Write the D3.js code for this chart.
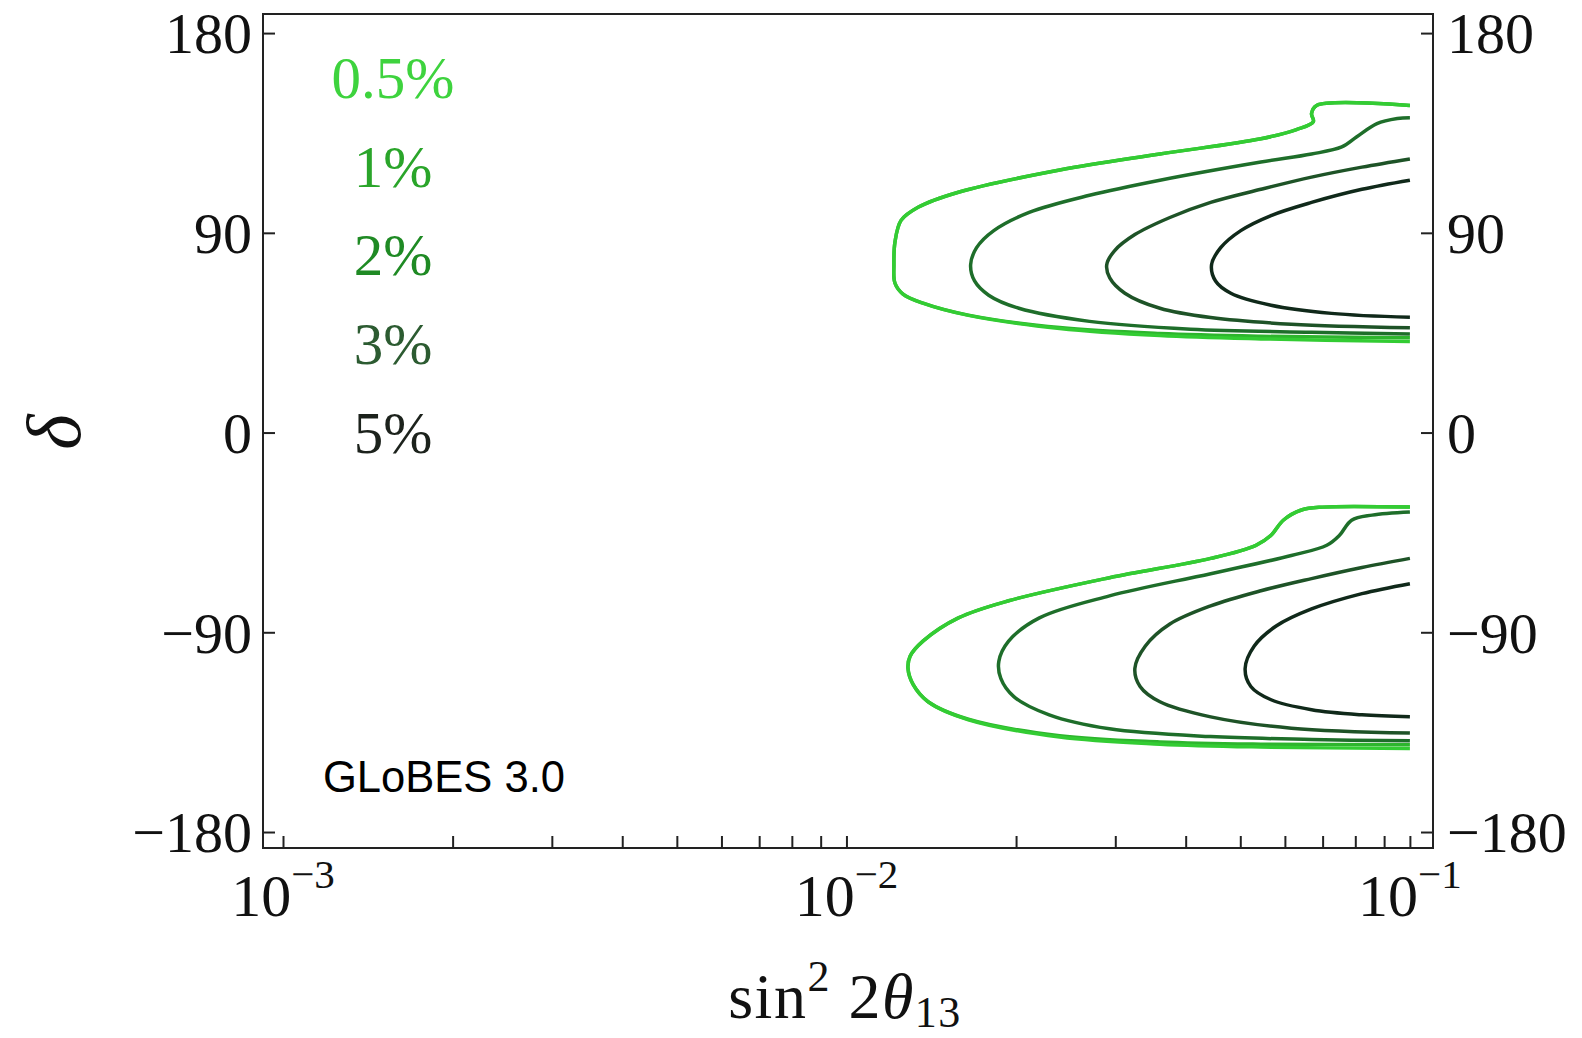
<!DOCTYPE html>
<html>
<head>
<meta charset="utf-8">
<script src="https://cdn.jsdelivr.net/npm/d3@7"></script>
<style>
  body { margin: 0; background: #fff; }
  svg { display: block; }
</style>
</head>
<body>
<svg id="chart" width="1582" height="1038"></svg>
<script>
// Systematic error levels, outermost (most sensitive) to innermost
const levels = ["0.5%", "1%", "2%", "3%", "5%"];

// Axis ticks
const xTickExponents = [-3, -2, -1];
const yTickValues = [180, 90, 0, -90, -180];

// Contours: [sin^2 2θ13, δ (degrees)] for the upper (δ > 0) and lower (δ < 0) regions
const upper05 = [[0.1,147.4],[0.0683,147.4],[0.0669,143.7],[0.0674,140.1],[0.0629,136.5],[0.0544,132.4],[0.0360,125.5],[0.0239,118.3],[0.0158,108.3],[0.0134,101.5],[0.0125,95.6],[0.01219,85.6],[0.01214,75.6],[0.01219,67.4],[0.0126,62.4],[0.01367,58.3],[0.01646,52.8],[0.0239,46.9],[0.0360,43.7],[0.0544,42.2],[0.1,41.0]];
const upper1  = [[0.1,147.4],[0.0683,147.4],[0.0669,143.7],[0.0674,140.1],[0.0629,136.5],[0.0544,132.4],[0.0360,125.5],[0.0239,118.3],[0.0158,108.3],[0.0134,101.5],[0.0125,95.6],[0.01219,85.6],[0.01214,75.6],[0.01219,67.4],[0.0126,62.4],[0.01367,58.3],[0.01646,52.9],[0.0239,47.3],[0.0360,44.6],[0.0544,43.4],[0.1,42.7]];
const upper2  = [[0.1,141.9],[0.0950,141.5],[0.0874,139.2],[0.0805,133.3],[0.0757,128.7],[0.0669,125.5],[0.0544,121.9],[0.0360,113.7],[0.0270,106.9],[0.0211,99.2],[0.01826,91.0],[0.01702,83.3],[0.01661,75.6],[0.01688,68.3],[0.01788,61.9],[0.02023,56.0],[0.0270,50.1],[0.0408,46.6],[0.0669,45.2],[0.1,44.4]];
const upper3  = [[0.1,123.3],[0.0822,119.6],[0.0669,115.1],[0.0544,109.6],[0.0443,103.7],[0.0375,96.9],[0.0325,89.2],[0.0299,81.9],[0.02897,75.6],[0.02933,69.7],[0.0312,62.8],[0.0360,56.0],[0.0443,51.8],[0.0616,48.8],[0.1,47.2]];
const upper5  = [[0.1,113.7],[0.0822,109.6],[0.0669,103.7],[0.0567,97.8],[0.0501,91.0],[0.04615,83.3],[0.04446,75.6],[0.04519,68.3],[0.04811,62.8],[0.0567,57.4],[0.0726,53.7],[0.1,51.9]];

const lower05 = [[0.1,-33.6],[0.0700,-33.6],[0.0642,-34.9],[0.0596,-39.5],[0.0567,-46.3],[0.0533,-50.8],[0.0443,-56.7],[0.0293,-65.4],[0.0194,-75.8],[0.0158,-83.5],[0.01367,-94.0],[0.01297,-100.8],[0.01286,-106.3],[0.01313,-113.5],[0.01396,-121.3],[0.01646,-129.4],[0.0239,-137.2],[0.0360,-140.4],[0.0544,-141.7],[0.1,-142.4]];
const lower1  = [[0.1,-33.6],[0.0700,-33.6],[0.0642,-34.9],[0.0596,-39.5],[0.0567,-46.3],[0.0533,-50.8],[0.0443,-56.7],[0.0293,-65.4],[0.0194,-75.8],[0.0158,-83.5],[0.01367,-94.0],[0.01297,-100.8],[0.01286,-106.3],[0.01313,-113.5],[0.01396,-121.3],[0.01646,-129.2],[0.0239,-136.6],[0.0360,-139.4],[0.0544,-140.4],[0.1,-140.7]];
const lower2  = [[0.1,-35.8],[0.0857,-37.2],[0.0788,-39.5],[0.0750,-46.3],[0.0712,-50.8],[0.0616,-55.4],[0.0443,-63.6],[0.0293,-73.6],[0.0220,-83.5],[0.0194,-94.0],[0.01864,-103.1],[0.01879,-110.8],[0.01982,-119.0],[0.0229,-127.2],[0.0293,-133.5],[0.0443,-137.0],[0.0669,-138.3],[0.1,-138.9]];
const lower3  = [[0.1,-56.7],[0.0822,-60.8],[0.0669,-65.8],[0.0544,-71.3],[0.0443,-78.1],[0.0375,-86.3],[0.0339,-96.3],[0.0325,-106.3],[0.0332,-114.4],[0.0360,-121.3],[0.0443,-128.1],[0.0616,-133.2],[0.1,-135.4]];
const lower5  = [[0.1,-68.1],[0.0822,-72.6],[0.0669,-79.5],[0.0579,-87.2],[0.0529,-96.3],[0.0510,-106.3],[0.0522,-114.4],[0.0567,-120.4],[0.0669,-124.9],[0.0822,-127.2],[0.1,-128.1]];

// Per-level styling
const lineColors = ["#33cc33", "#2db52d", "#1e6e2a", "#1e5327", "#10291a"];
const textColors = ["#3ed33e", "#2aa52a", "#1f8a24", "#2c5b31", "#1c221c"];

const contours = [
  { level: 1, points: upper1 }, { level: 0, points: upper05 },
  { level: 2, points: upper2 }, { level: 3, points: upper3 }, { level: 4, points: upper5 },
  { level: 1, points: lower1 }, { level: 0, points: lower05 },
  { level: 2, points: lower2 }, { level: 3, points: lower3 }, { level: 4, points: lower5 }
];

const svg = d3.select("#chart");
const serif = "'Liberation Serif', 'Times New Roman', serif";

// Frame spans slightly beyond the labelled ranges on each side
const x = d3.scaleLog().domain([0.0009215, 0.1099]).range([263, 1433]);
const y = d3.scaleLinear().domain([-187.2, 188.6]).range([848, 14]);

const [x0, x1] = x.range();
const [yb, yt] = y.range();

// Contour lines
const line = d3.line()
  .x(d => x(d[0]))
  .y(d => y(d[1]))
  .curve(d3.curveCatmullRom.alpha(0.5));

svg.append("g")
  .selectAll("path")
  .data(contours)
  .join("path")
  .attr("d", d => line(d.points))
  .attr("fill", "none")
  .attr("stroke", d => lineColors[d.level])
  .attr("stroke-width", 3.5)
  .attr("stroke-linejoin", "round")
  .attr("stroke-linecap", "butt");

// Bottom axis: ticks at every 1..9 × 10^n, pointing into the frame
const minorTicks = [];
for (let e = -3; e < -1; e++) for (let k = 1; k <= 9; k++) minorTicks.push(k * Math.pow(10, e));
minorTicks.push(0.1);

const xAxis = svg.append("g")
  .attr("transform", `translate(0,${yb})`)
  .call(d3.axisBottom(x).tickValues(minorTicks).tickSize(-12).tickFormat(""));
xAxis.select(".domain").remove();
xAxis.selectAll("line").attr("stroke", "#222").attr("stroke-width", 2);

// Power-of-ten labels
const xLabels = svg.append("g");
xTickExponents.forEach(e => {
  const t = xLabels.append("text")
    .attr("x", x(Math.pow(10, e)))
    .attr("y", 916)
    .attr("text-anchor", "middle")
    .attr("font-family", serif)
    .attr("font-size", 60)
    .attr("fill", "#111");
  t.append("tspan").text("10");
  t.append("tspan").attr("dy", -28).attr("font-size", 41).text("\u2212" + Math.abs(e));
});

// Left and right δ axes
const yLeft = svg.append("g")
  .attr("transform", `translate(${x0},0)`)
  .call(d3.axisLeft(y).tickValues(yTickValues).tickSize(-12).tickPadding(11).tickFormat(d3.format("d")));
const yRight = svg.append("g")
  .attr("transform", `translate(${x1},0)`)
  .call(d3.axisRight(y).tickValues(yTickValues).tickSize(-12).tickPadding(14).tickFormat(d3.format("d")));
[yLeft, yRight].forEach(g => {
  g.select(".domain").remove();
  g.selectAll("line").attr("stroke", "#222").attr("stroke-width", 2);
  g.selectAll("text").attr("font-family", serif).attr("font-size", 58).attr("fill", "#111").attr("dy", "0.34em");
});

// Frame
svg.append("rect")
  .attr("x", x0).attr("y", yt)
  .attr("width", x1 - x0).attr("height", yb - yt)
  .attr("fill", "none")
  .attr("stroke", "#222")
  .attr("stroke-width", 2);

// Level labels
svg.append("g")
  .selectAll("text")
  .data(levels)
  .join("text")
  .attr("x", 393)
  .attr("y", (d, i) => 98 + i * 88.7)
  .attr("text-anchor", "middle")
  .attr("font-family", serif)
  .attr("font-size", 59)
  .attr("fill", (d, i) => textColors[i])
  .text(d => d);

// Software tag
svg.append("text")
  .attr("x", 323)
  .attr("y", 792)
  .attr("font-family", "'Liberation Sans', Arial, sans-serif")
  .attr("font-size", 45)
  .attr("textLength", 242)
  .attr("lengthAdjust", "spacingAndGlyphs")
  .attr("fill", "#000")
  .text("GLoBES 3.0");

// Axis titles
const xTitle = svg.append("text")
  .attr("x", 845)
  .attr("y", 1018)
  .attr("text-anchor", "middle")
  .attr("font-family", serif)
  .attr("font-size", 64)
  .attr("letter-spacing", 1.5)
  .attr("fill", "#111");
xTitle.append("tspan").text("sin");
xTitle.append("tspan").attr("dy", -27).attr("font-size", 44).text("2");
xTitle.append("tspan").attr("dy", 27).text("\u00a02");
xTitle.append("tspan").attr("font-style", "italic").text("\u03b8");
xTitle.append("tspan").attr("dy", 9).attr("font-size", 44).text("13");

svg.append("text")
  .attr("transform", "translate(53,432) rotate(-90)")
  .attr("text-anchor", "middle")
  .attr("dy", "0.35em")
  .attr("font-family", serif)
  .attr("font-style", "italic")
  .attr("font-size", 76)
  .attr("fill", "#111")
  .text("\u03b4");
</script>
</body>
</html>
